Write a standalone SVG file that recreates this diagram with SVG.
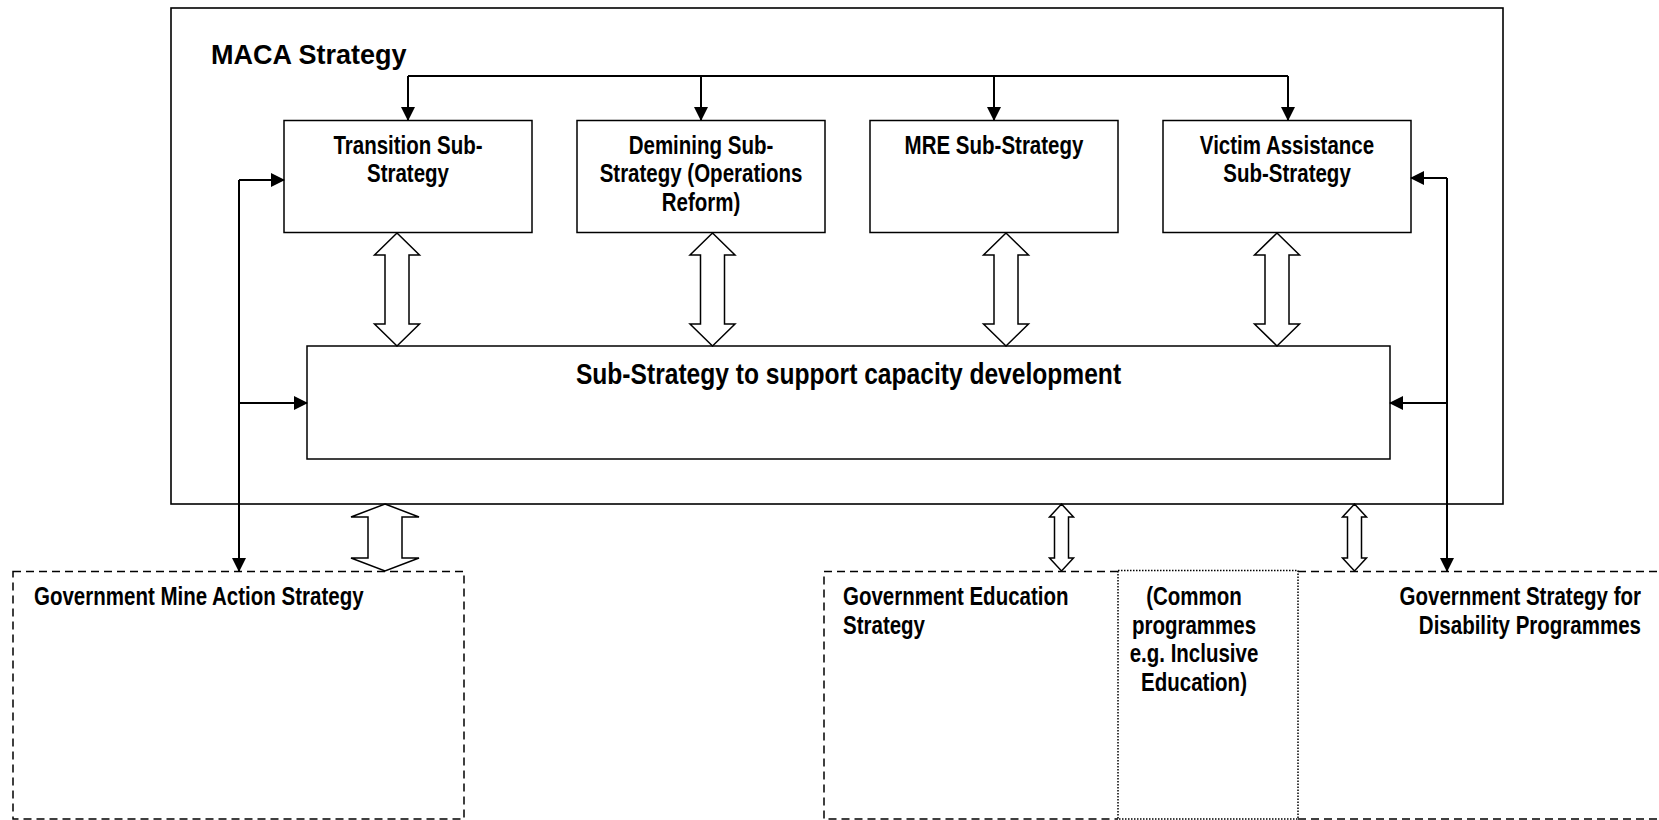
<svg xmlns="http://www.w3.org/2000/svg" xmlns:xlink="http://www.w3.org/1999/xlink" width="1659" height="820" viewBox="0 0 1659 820">
<style>
.bg{fill:#fff}
.box{fill:#fff;stroke:#000;stroke-width:1.5}
.outer{fill:none;stroke:#000;stroke-width:1.6}
.gov{fill:none;stroke:#000;stroke-width:1.5;stroke-dasharray:8 5}
.dot{fill:none;stroke:#000;stroke-width:1.5;stroke-dasharray:1.5 1.5}
.conn{fill:none;stroke:#000;stroke-width:2}
.blk{fill:#fff;stroke:#000;stroke-width:1.5;stroke-linejoin:miter}
.t{font-family:"Liberation Sans",Arial,sans-serif;font-weight:bold;font-size:25px;fill:#000}
.title{font-size:27px}
.cap{font-size:30px}
</style>
<defs>
<marker id="ah" markerUnits="userSpaceOnUse" markerWidth="14" markerHeight="14" viewBox="0 0 14 14" refX="13" refY="7" orient="auto">
<path d="M0,0 L14,7 L0,14 z" fill="#000"/>
</marker>
<path id="dblBig" d="M0,0 L22.5,22 L12,22 L12,91 L22.5,91 L0,113 L-22.5,91 L-12,91 L-12,22 L-22.5,22 z"/>
<path id="dblWide" d="M0,0 L34,13 L17,13 L17,54 L34,54 L0,67 L-34,54 L-17,54 L-17,13 L-34,13 z"/>
<path id="dblThin" d="M0,0 L12,13 L7,13 L7,54 L12,54 L0,67 L-12,54 L-7,54 L-7,13 L-12,13 z"/>
</defs>
<rect class="bg" x="0" y="0" width="1659" height="820"/>

<g id="maca">
<rect class="outer" x="171" y="8" width="1332" height="496"/>
<text class="t title" x="211" y="64">MACA Strategy</text>
</g>

<g id="transition">
<rect class="box" x="284" y="120.5" width="248" height="112"/>
<text class="t" transform="translate(408 154) scale(0.82 1)" text-anchor="middle"><tspan x="0" y="0">Transition Sub-</tspan><tspan x="0" y="28.5">Strategy</tspan></text>
</g>

<g id="demining">
<rect class="box" x="577" y="120.5" width="248" height="112"/>
<text class="t" transform="translate(701 154) scale(0.82 1)" text-anchor="middle"><tspan x="0" y="0">Demining Sub-</tspan><tspan x="0" y="28.5">Strategy (Operations</tspan><tspan x="0" y="57">Reform)</tspan></text>
</g>

<g id="mre">
<rect class="box" x="870" y="120.5" width="248" height="112"/>
<text class="t" transform="translate(994 154) scale(0.82 1)" text-anchor="middle">MRE Sub-Strategy</text>
</g>

<g id="victim">
<rect class="box" x="1163" y="120.5" width="248" height="112"/>
<text class="t" transform="translate(1287 154) scale(0.82 1)" text-anchor="middle"><tspan x="0" y="0">Victim Assistance</tspan><tspan x="0" y="28.5">Sub-Strategy</tspan></text>
</g>

<g id="capacity">
<rect class="box" x="307" y="346" width="1083" height="113"/>
<text class="t cap" transform="translate(848.5 384) scale(0.82 1)" text-anchor="middle">Sub-Strategy to support capacity development</text>
</g>

<g id="gov-mine">
<rect class="gov" x="13" y="571.5" width="451" height="247.5"/>
<text class="t" transform="translate(34 605) scale(0.82 1)">Government Mine Action Strategy</text>
</g>

<g id="gov-education">
<path class="gov" d="M1118,571.5 H824 V819 H1118"/>
<text class="t" transform="translate(843 605) scale(0.82 1)"><tspan x="0" y="0">Government Education</tspan><tspan x="0" y="29">Strategy</tspan></text>
</g>

<g id="gov-disability">
<path class="gov" d="M1298,571.5 H1665 M1298,819 H1665"/>
<text class="t" transform="translate(1641 605) scale(0.82 1)" text-anchor="end"><tspan x="0" y="0">Government Strategy for</tspan><tspan x="0" y="29">Disability Programmes</tspan></text>
</g>

<g id="common">
<rect class="dot" x="1118" y="570.5" width="180" height="248.5"/>
<text class="t" transform="translate(1194 605) scale(0.82 1)" text-anchor="middle"><tspan x="0" y="0">(Common</tspan><tspan x="0" y="28.7">programmes</tspan><tspan x="0" y="57.4">e.g. Inclusive</tspan><tspan x="0" y="86.1">Education)</tspan></text>
</g>

<g id="connectors">
<path class="conn" d="M408,76 H1288"/>
<path class="conn" d="M408,76 V120" marker-end="url(#ah)"/>
<path class="conn" d="M701,76 V120" marker-end="url(#ah)"/>
<path class="conn" d="M994,76 V120" marker-end="url(#ah)"/>
<path class="conn" d="M1288,76 V120" marker-end="url(#ah)"/>
<path class="conn" d="M239,180 H284" marker-end="url(#ah)"/>
<path class="conn" d="M239,180 V571" marker-end="url(#ah)"/>
<path class="conn" d="M239,403 H307" marker-end="url(#ah)"/>
<path class="conn" d="M1447,178 H1411" marker-end="url(#ah)"/>
<path class="conn" d="M1447,178 V571" marker-end="url(#ah)"/>
<path class="conn" d="M1447,403 H1390" marker-end="url(#ah)"/>
<use class="blk" xlink:href="#dblBig" href="#dblBig" x="397" y="233"/>
<use class="blk" xlink:href="#dblBig" href="#dblBig" x="712.5" y="233"/>
<use class="blk" xlink:href="#dblBig" href="#dblBig" x="1006" y="233"/>
<use class="blk" xlink:href="#dblBig" href="#dblBig" x="1277" y="233"/>
<use class="blk" xlink:href="#dblWide" href="#dblWide" x="385" y="504"/>
<use class="blk" xlink:href="#dblThin" href="#dblThin" x="1061.5" y="504"/>
<use class="blk" xlink:href="#dblThin" href="#dblThin" x="1354.5" y="504"/>
</g>
</svg>
